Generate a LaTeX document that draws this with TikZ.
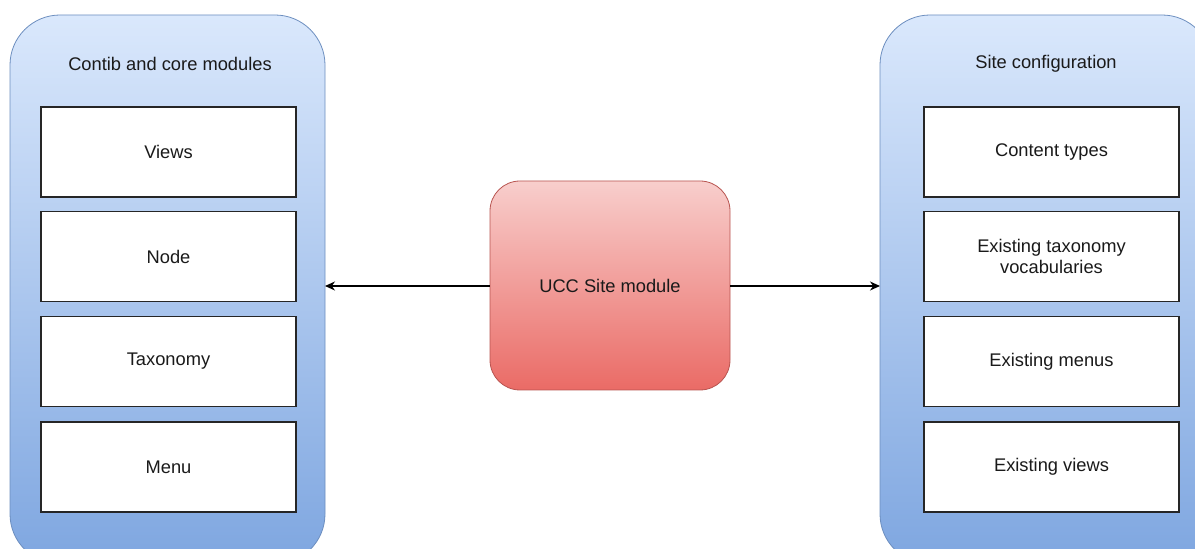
\documentclass[tikz,border=0pt]{standalone}
\usepackage{fontspec}
\setmainfont{Liberation Sans}
\usetikzlibrary{arrows.meta}
\definecolor{blueTop}{HTML}{DAE8FC}
\definecolor{blueBot}{HTML}{7EA6E0}
\definecolor{blueLine}{HTML}{6C8EBF}
\definecolor{redTop}{HTML}{F8CECC}
\definecolor{redBot}{HTML}{EA6B66}
\definecolor{redLine}{HTML}{B85450}
\definecolor{txt}{HTML}{1A1A1A}
\tikzset{
  container/.style={draw=blueLine, line width=0.8pt, rounded corners=50pt, top color=blueTop, bottom color=blueBot, minimum width=#1, minimum height=549pt, inner sep=0pt},
  item/.style={draw=black!85, line width=1.3pt, fill=white, minimum width=255pt, minimum height=90pt, inner sep=2pt, align=center, text=txt, font=\fontsize{18.3}{21}\selectfont},
  title/.style={text=txt, font=\fontsize{18.3}{21}\selectfont},
  core/.style={draw=redLine, line width=0.8pt, rounded corners=30pt, top color=redTop, bottom color=redBot, minimum width=240pt, minimum height=209pt, text=txt, font=\fontsize{18.3}{21}\selectfont},
  link/.style={line width=1.2pt, black, -{Stealth[length=10pt,width=9pt]}}
}
\begin{document}
\begin{tikzpicture}[x=1pt,y=1pt]
\useasboundingbox (0,0) rectangle (1195,549);
\begin{scope}
\clip (0,0) rectangle (1195,549);
\node[container=315pt] (left) at (167.5,259.5) {};
\node[container=332pt] (right) at (1046,259.5) {};
\end{scope}
\coordinate (leftE) at (325,263);
\coordinate (rightW) at (880,263);
\node[title] (lt) at (170,485) {Contib and core modules};
\node[title] (rt) at (1046,485) {Site configuration};
\node[item] (views) at (168.5,397) {Views};
\node[item] (node) at (168.5,292.5) {Node};
\node[item] (tax) at (168.5,187.5) {Taxonomy};
\node[item] (menu) at (168.5,82) {Menu};
\node[item] (ct) at (1051.5,397) {Content types};
\node[item] (etv) at (1051.5,292.5) {Existing taxonomy\\vocabularies};
\node[item] (em) at (1051.5,187.5) {Existing menus};
\node[item] (ev) at (1051.5,82) {Existing views};
\node[core] (ucc) at (610,263.5) {UCC Site module};
\draw[link] (ucc.west |- leftE) -- (leftE);
\draw[link] (ucc.east |- rightW) -- (rightW);
\end{tikzpicture}
\end{document}
